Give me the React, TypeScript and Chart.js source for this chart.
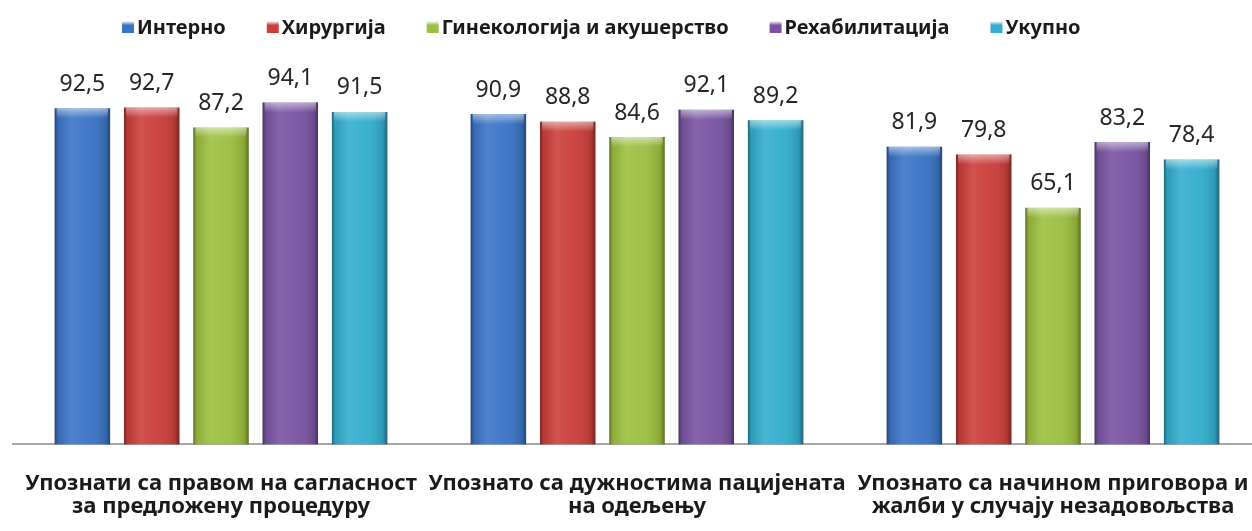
import React, { useEffect, useRef } from "react";
import { Chart, registerables } from "chart.js";

Chart.register(...registerables);

const categories: string[][] = [
  ["Упознати са правом на сагласност", "за предложену процедуру"],
  ["Упознато са дужностима пацијената", "на одељењу"],
  ["Упознато са начином приговора и", "жалби у случају незадовољства"],
];

const seriesNames = ["Интерно", "Хирургија", "Гинекологија и акушерство", "Рехабилитација", "Укупно"];
const interno = [92.5, 90.9, 81.9];
const hirurgija = [92.7, 88.8, 79.8];
const ginekologija = [87.2, 84.6, 65.1];
const rehabilitacija = [94.1, 92.1, 83.2];
const ukupno = [91.5, 89.2, 78.4];
const seriesValues = [interno, hirurgija, ginekologija, rehabilitacija, ukupno];
const seriesColors = ["#3b74c6", "#cb3e3a", "#9cbf40", "#7a54a3", "#33adce"];

const FONT = "'Noto Sans', 'DejaVu Sans', sans-serif";

const barStylePlugin = {
  id: "barStyle",
  afterDatasetsDraw(chart: any) {
    const ctx = chart.ctx as CanvasRenderingContext2D;
    ctx.save();
    chart.data.datasets.forEach((ds: any, i: number) => {
      const meta = chart.getDatasetMeta(i);
      meta.data.forEach((el: any, j: number) => {
        const { x, y, base, width } = el.getProps(["x", "y", "base", "width"], true);
        const left = x - width / 2;
        const h = base - y;
        const g = ctx.createLinearGradient(left, 0, left + width, 0);
        g.addColorStop(0, "rgba(0,0,0,0.40)");
        g.addColorStop(0.06, "rgba(0,0,0,0.10)");
        g.addColorStop(0.3, "rgba(255,255,255,0.10)");
        g.addColorStop(0.6, "rgba(255,255,255,0.04)");
        g.addColorStop(0.92, "rgba(0,0,0,0.12)");
        g.addColorStop(1, "rgba(0,0,0,0.42)");
        ctx.fillStyle = g;
        ctx.fillRect(left, y, width, h);
        const t = ctx.createLinearGradient(0, y, 0, y + 10);
        t.addColorStop(0, "rgba(255,255,255,0.50)");
        t.addColorStop(1, "rgba(255,255,255,0)");
        ctx.fillStyle = t;
        ctx.fillRect(left + 2, y, width - 4, 10);
        const v = ds.data[j] as number;
        ctx.fillStyle = "#262626";
        ctx.font = `23px ${FONT}`;
        ctx.textAlign = "center";
        ctx.textBaseline = "middle";
        ctx.fillText(v.toFixed(1).replace(".", ","), x, y - 24);
      });
    });
    ctx.restore();
  },
};

const legendPlugin = {
  id: "customLegend",
  afterDraw(chart: any) {
    const ctx = chart.ctx as CanvasRenderingContext2D;
    ctx.save();
    ctx.font = `bold 20px ${FONT}`;
    ctx.textBaseline = "middle";
    ctx.textAlign = "left";
    let cx = 122;
    const cy = 27;
    const box = 12;
    chart.data.datasets.forEach((ds: any) => {
      const g = ctx.createLinearGradient(0, cy - box / 2, 0, cy + box / 2);
      g.addColorStop(0, "#ffffff");
      g.addColorStop(0.35, ds.backgroundColor);
      g.addColorStop(1, ds.backgroundColor);
      ctx.fillStyle = g;
      ctx.fillRect(cx, cy - box / 2, box, box);
      ctx.fillStyle = "#1a1a1a";
      ctx.fillText(ds.label, cx + box + 3, cy + 1);
      const w = ctx.measureText(ds.label).width;
      cx += box + 3 + w + 41;
    });
    ctx.restore();
  },
};

export default function App() {
  const ref = useRef<HTMLCanvasElement | null>(null);
  useEffect(() => {
    if (!ref.current) return;
    const chart = new Chart(ref.current, {
      type: "bar",
      data: {
        labels: categories,
        datasets: seriesNames.map((name, i) => ({
          label: name,
          data: seriesValues[i],
          backgroundColor: seriesColors[i],
          borderWidth: 0,
        })),
      },
      options: {
        responsive: false,
        animation: false,
        devicePixelRatio: 1,
        layout: { padding: { left: 13, right: 9, top: 81, bottom: 9 } },
        datasets: { bar: { categoryPercentage: 0.833, barPercentage: 0.8 } },
        plugins: { legend: { display: false }, tooltip: { enabled: false } },
        scales: {
          x: {
            grid: { display: false, drawTicks: false },
            border: { display: true, color: "#a6a6a6", width: 2 },
            afterFit(scale: any) {
              scale.paddingLeft = 0;
              scale.paddingRight = 0;
            },
            ticks: {
              padding: 27,
              color: "#1a1a1a",
              font: { family: FONT, size: 22, weight: "bold", lineHeight: 1.08 },
              maxRotation: 0,
              autoSkip: false,
            },
          },
          y: { display: false, min: 0, max: 100 },
        },
      },
      plugins: [barStylePlugin, legendPlugin],
    });
    return () => chart.destroy();
  }, []);
  return (
    <div style={{ position: "fixed", left: 0, top: 0, width: 1252, height: 531, overflow: "hidden", background: "#fff" }}>
      <canvas ref={ref} width={1270} height={555} style={{ width: 1270, height: 555, display: "block" }} />
    </div>
  );
}
